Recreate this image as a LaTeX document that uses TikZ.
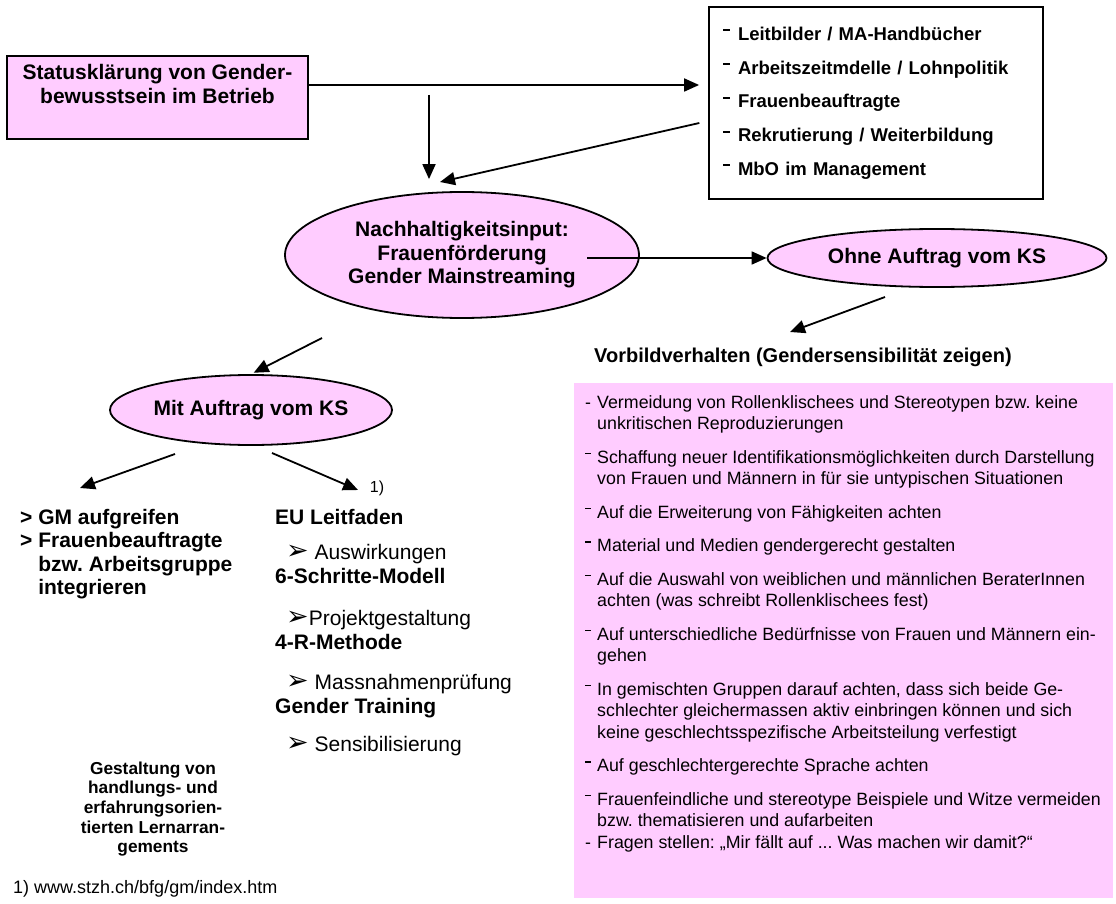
\documentclass[tikz,border=0pt]{standalone}
\usepackage{fontspec}
\setmainfont{Liberation Sans}
\newfontfamily\symfont{DejaVu Sans}
\usetikzlibrary{arrows.meta,shapes.geometric}
\definecolor{lila}{HTML}{FFCCFF}
\newcommand\hidash{\makebox[15pt][l]{\rule[0.48em]{7pt}{2pt}}}
\newcommand\tipdash{\makebox[12pt][l]{\rule[0.5em]{6pt}{1.7pt}}}
\newcommand\lowdash{\makebox[12pt][l]{-}}
\newcommand\pointer{{\symfont\fontsize{27}{24}\selectfont ➢}}

\begin{document}
\frenchspacing
\begin{tikzpicture}[x=1pt,y=-1pt,
    arr/.style={line width=1.8pt, -{Triangle[length=15pt, width=13pt]}},
    bigbold/.style={font=\fontsize{21}{23.5}\selectfont\bfseries, align=center, inner sep=0pt},
    bubble/.style={ellipse, draw, line width=1.8pt, fill=lila, inner sep=0pt},
    plain/.style={font=\fontsize{17.8}{21.5}\selectfont, inner sep=0pt, align=left}]
    \useasboundingbox (0,0) rectangle (1116,904);

    \node[draw, line width=2.6pt, fill=lila, minimum width=301pt, minimum height=83pt, inner sep=0pt] (status) at (157.5,97.5) {};
    \node[bigbold] (statustext) at (157.5,84) {Statusklärung von Gender-\\bewusstsein im Betrieb};
    \node[draw, line width=1.8pt, minimum width=334pt, minimum height=192pt, text width=306pt, inner xsep=14pt, inner ysep=0pt,
        align=left, font=\fontsize{18.5}{33.7}\selectfont\bfseries] (measures) at (876,103)
        {\hidash Leitbilder / MA-Handbücher\\
         \hidash Arbeitszeitmdelle / Lohnpolitik\\
         \hidash Frauenbeauftragte\\
         \hidash Rekrutierung / Weiterbildung\\
         \hidash MbO im Management};
    \node[bubble, bigbold, minimum width=354pt, minimum height=126pt] (input) at (462,255)
        {Nachhaltigkeitsinput:\\Frauenförderung\\Gender Mainstreaming};
    \node[bubble, bigbold, minimum width=339pt, minimum height=58pt] (ohne) at (937,258) {Ohne Auftrag vom KS};
    \node[bubble, bigbold, minimum width=282pt, minimum height=70pt] (mit) at (251,410) {Mit Auftrag vom KS};

    \node[bigbold, anchor=north west, align=left, font=\fontsize{21}{23.3}\selectfont\bfseries] (gmlist) at (20,509)
        {> GM aufgreifen\\> Frauenbeauftragte\\\phantom{> }bzw. Arbeitsgruppe\\\phantom{> }integrieren};
    \node[inner sep=0pt, anchor=north west, align=left, font=\fontsize{21}{24}\selectfont] (eulist) at (275,509)
        {\textbf{EU Leitfaden}\\[11pt]
         \hspace*{11pt}\pointer~Auswirkungen\\
         \textbf{6-Schritte-Modell}\\[18pt]
         \hspace*{11pt}\pointer Projektgestaltung\\
         \textbf{4-R-Methode}\\[16pt]
         \hspace*{11pt}\pointer~Massnahmenprüfung\\
         \textbf{Gender Training}\\[14pt]
         \hspace*{11pt}\pointer~Sensibilisierung};
    \node[inner sep=0pt, font=\fontsize{16}{19}\selectfont] (fnmark) at (377,488) {1)};
    \node[inner sep=0pt, align=center, font=\fontsize{17.3}{19.6}\selectfont\bfseries] (lernen) at (153,809)
        {Gestaltung von\\handlungs- und\\erfahrungsorien-\\tierten Lernarran-\\gements};
    \node[inner sep=0pt, anchor=west, font=\fontsize{18}{21}\selectfont] (footnote) at (13,889) {1) www.stzh.ch/bfg/gm/index.htm};

    \node[inner sep=0pt, anchor=west, font=\fontsize{20}{23}\selectfont\bfseries] (vorbild) at (594,357)
        {Vorbildverhalten (Gendersensibilität zeigen)};
    \node[fill=lila, anchor=north west, minimum width=539pt, minimum height=515pt, inner sep=0pt] (tipsbox) at (574,383) {};
    \node[plain, anchor=north west] (tips) at (585,395)
        {\lowdash Vermeidung von Rollenklischees und Stereotypen bzw. keine\\
         \hspace*{12pt}unkritischen Reproduzierungen\\[12pt]
         \tipdash Schaffung neuer Identifikationsmöglichkeiten durch Darstellung\\
         \hspace*{12pt}von Frauen und Männern in für sie untypischen Situationen\\[12pt]
         \tipdash Auf die Erweiterung von Fähigkeiten achten\\[12pt]
         \tipdash Material und Medien gendergerecht gestalten\\[12pt]
         \tipdash Auf die Auswahl von weiblichen und männlichen BeraterInnen\\
         \hspace*{12pt}achten (was schreibt Rollenklischees fest)\\[12pt]
         \tipdash Auf unterschiedliche Bedürfnisse von Frauen und Männern ein-\\
         \hspace*{12pt}gehen\\[12pt]
         \tipdash In gemischten Gruppen darauf achten, dass sich beide Ge-\\
         \hspace*{12pt}schlechter gleichermassen aktiv einbringen können und sich\\
         \hspace*{12pt}keine geschlechtsspezifische Arbeitsteilung verfestigt\\[12pt]
         \tipdash Auf geschlechtergerechte Sprache achten\\[12pt]
         \tipdash Frauenfeindliche und stereotype Beispiele und Witze vermeiden\\
         \hspace*{12pt}bzw. thematisieren und aufarbeiten\\
         \lowdash Fragen stellen: „Mir fällt auf ... Was machen wir damit?“};

    \coordinate (split) at (429,95);
    \coordinate (back) at (440,182);
    \coordinate (inputfoot) at (322,338);
    \coordinate (mitfootl) at (175,454);
    \coordinate (mitfootr) at (272,453);
    \coordinate (gmtip) at (80,488);
    \coordinate (eutip) at (358,490);
    \coordinate (ohnefoot) at (885,297);
    \coordinate (vorbildtip) at (790,332);

    \draw[arr, shorten >=9pt] ([yshift=12.5pt]status.east) -- ([yshift=18pt]measures.west);
    \draw[arr, shorten >=12pt] (split) -- (split |- input.north);
    \draw[arr, shorten <=9pt] ([yshift=-18pt]measures.west) -- (back);
    \draw[arr] ([xshift=125pt]input.center |- ohne.west) -- (ohne.west);
    \draw[arr] (ohnefoot) -- (vorbildtip);
    \draw[arr, shorten >=3pt] (inputfoot) -- (mit.north);
    \draw[arr] (mitfootl) -- (gmtip);
    \draw[arr] (mitfootr) -- (eutip);
\end{tikzpicture}
\end{document}
